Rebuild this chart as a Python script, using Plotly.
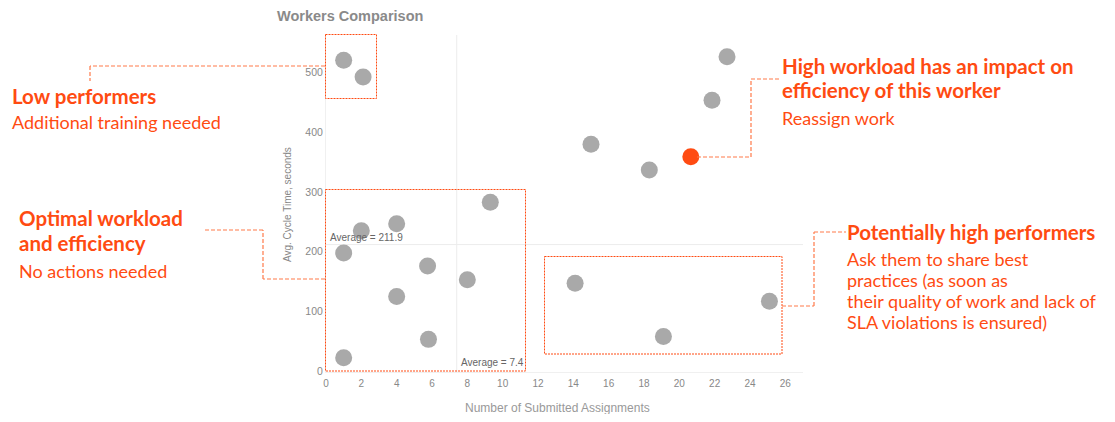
import plotly.graph_objects as go

# worker points (number of submitted assignments, avg cycle time in seconds)
workers_x = [1.0, 2.1, 2.0, 4.0, 9.3, 1.0, 5.75, 8.0, 4.0, 5.8, 1.0,
             22.7, 21.85, 15.0, 18.3, 14.1, 19.1, 25.1]
workers_y = [521, 493, 235, 247, 283, 198, 176, 153, 125, 53, 22,
             527, 454, 380, 337, 147, 58, 117]

# the overloaded worker that gets highlighted
focus_x = [20.65]
focus_y = [359]

avg_assignments = 7.4
avg_cycle_time = 211.9

x_ticks = list(range(0, 27, 2))
y_ticks = [0, 100, 200, 300, 400, 500]

ORANGE = "#ff4b12"
LIGHT_ORANGE = "#ff7a4a"
GREY_DOT = "#a9a9a9"
TEXT_FONT = "Lato"

# page is drawn with the default 8px body margin on every side
PAGE_W, PAGE_H, OFFSET = 1115, 422, 8
FIG_W, FIG_H = PAGE_W - OFFSET, PAGE_H - 2 * OFFSET

# plot area in screen pixels, used to place the call-outs
L, R, T, B = 326, 803, 35, 372


def px(x):
    return (x - L) / (R - L)


def py(y):
    return (B - y) / (B - T)


fig = go.Figure()

fig.add_trace(go.Scatter(
    x=workers_x, y=workers_y, mode="markers",
    marker=dict(size=17, color=GREY_DOT, line=dict(width=0)),
    hoverinfo="x+y", showlegend=False
))
fig.add_trace(go.Scatter(
    x=focus_x, y=focus_y, mode="markers",
    marker=dict(size=17, color=ORANGE, line=dict(width=0)),
    hoverinfo="x+y", showlegend=False
))

# average reference lines
fig.add_shape(type="line", xref="x", yref="paper", x0=avg_assignments, x1=avg_assignments,
              y0=0, y1=1, line=dict(color="#ececec", width=1), layer="below")
fig.add_shape(type="line", xref="paper", yref="y", x0=0, x1=1,
              y0=avg_cycle_time, y1=avg_cycle_time, line=dict(color="#ececec", width=1), layer="below")

fig.add_annotation(xref="paper", yref="y", x=0.005, y=avg_cycle_time,
                   text=f"Average = {avg_cycle_time}", showarrow=False,
                   xanchor="left", yanchor="bottom", font=dict(size=10, color="#666"))
fig.add_annotation(xref="x", yref="paper", x=avg_assignments, y=0.005,
                   text=f"Average = {avg_assignments}", showarrow=False,
                   xanchor="left", yanchor="bottom", xshift=2,
                   font=dict(size=10, color="#666"))

# axis titles
fig.add_annotation(xref="paper", yref="paper", x=px(557), y=py(408),
                   text="Number of Submitted Assignments", showarrow=False,
                   xanchor="center", yanchor="middle", font=dict(size=12, color="#999"))
fig.add_annotation(xref="paper", yref="paper", x=px(287), y=py(205),
                   text="Avg. Cycle Time, seconds", showarrow=False, textangle=-90,
                   xanchor="center", yanchor="middle", font=dict(size=10, color="#888"))

# dashed boxes around the groups
boxes = [
    (325.5, 34.5, 376.5, 98.5),
    (325.5, 189.5, 525.5, 371),
    (544.5, 256.5, 782, 354),
]
for x0, y0, x1, y1 in boxes:
    fig.add_shape(type="rect", xref="paper", yref="paper",
                  x0=px(x0), x1=px(x1), y0=py(y0), y1=py(y1),
                  line=dict(color=ORANGE, width=1, dash="2px,1px"))

# connector lines from boxes to the call-out texts
connectors = [
    [(325, 66), (90, 66), (90, 81)],
    [(325, 279), (263, 279), (263, 230), (203, 230)],
    [(697, 157), (751, 157), (751, 79), (781, 79)],
    [(782, 306), (814, 306), (814, 232), (846, 232)],
]
for pts in connectors:
    for (ax, ay), (bx, by) in zip(pts[:-1], pts[1:]):
        fig.add_shape(type="line", xref="paper", yref="paper",
                      x0=px(ax), y0=py(ay), x1=px(bx), y1=py(by),
                      line=dict(color=LIGHT_ORANGE, width=1.2, dash="4px,2px"))

# call-out texts, one line each: (x, y, text, bold)
callouts = [
    (10, 96, "Low performers", True),
    (10, 122, "Additional training needed", False),
    (17, 218, "Optimal workload", True),
    (17, 243, "and efficiency", True),
    (17, 271, "No actions needed", False),
    (780, 66, "High workload has an impact on", True),
    (780, 90, "efficiency of this worker", True),
    (780, 118, "Reassign work", False),
    (845, 232, "Potentially high performers", True),
    (845, 259, "Ask them to share best", False),
    (845, 280, "practices (as soon as", False),
    (845, 301, "their quality of work and lack of", False),
    (845, 322, "SLA violations is ensured)", False),
]
for cx, cy, text, bold in callouts:
    fig.add_annotation(
        xref="paper", yref="paper", x=px(cx), y=py(cy),
        text=f"<b>{text}</b>" if bold else text,
        showarrow=False, xanchor="left", yanchor="middle", align="left",
        font=dict(family=TEXT_FONT, size=20.5 if bold else 18, color=ORANGE)
    )

fig.update_layout(
    width=FIG_W, height=FIG_H,
    margin=dict(l=L - OFFSET, r=PAGE_W - R, t=T - OFFSET, b=FIG_H + OFFSET - B),
    paper_bgcolor="white", plot_bgcolor="white",
    font=dict(family="Liberation Sans", color="#888"),
    title=dict(text="<b>Workers Comparison</b>", x=(277 - OFFSET) / FIG_W, xanchor="left",
               y=1 - (16 - OFFSET) / FIG_H, yanchor="middle",
               font=dict(size=14.5, color="#8a8a8a")),
    xaxis=dict(range=[0, 27.0], tickvals=x_ticks, showgrid=False, zeroline=False,
               showline=True, linecolor="#f0f0f0", automargin=False,
               ticks="outside", ticklen=2, tickcolor="white",
               tickfont=dict(size=10, color="#888")),
    yaxis=dict(range=[-1.7, 563.3], tickvals=y_ticks, showgrid=False, zeroline=False,
               showline=True, linecolor="#f0f0f0", ticks="", automargin=False,
               tickfont=dict(size=10.5, color="#888")),
)

fig.write_html("out.html")
